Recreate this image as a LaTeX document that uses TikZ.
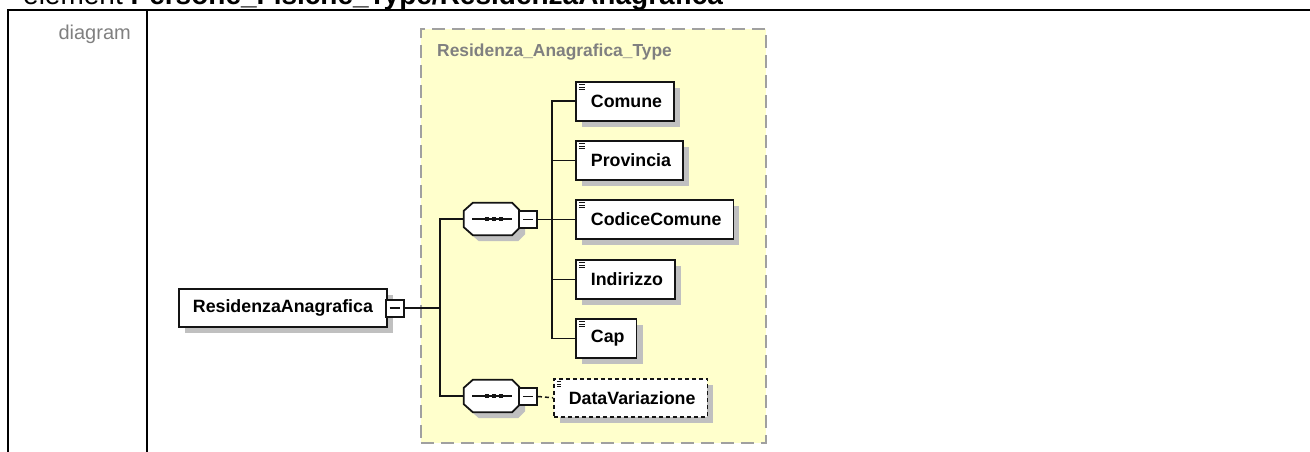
\documentclass[tikz,border=0pt]{standalone}
\usepackage{fontspec}
\setmainfont{Liberation Sans}
\usetikzlibrary{shadows}
\definecolor{shgray}{RGB}{192,192,192}
\definecolor{ybg}{RGB}{255,255,204}
\definecolor{ybord}{RGB}{160,160,160}
\definecolor{txtgray}{RGB}{128,128,128}
\definecolor{ink}{RGB}{20,20,20}
\tikzset{
  conn/.style={line width=1.8pt, draw=ink},
  dconn/.style={line width=1.5pt, draw=ink, dash pattern=on 4pt off 3pt},
  shad/.style={drop shadow={shadow xshift=6pt, shadow yshift=-6pt, fill=shgray, opacity=1}},
  elem/.style={draw=ink, line width=1.8pt, fill=white, shad, minimum height=39pt,
    inner xsep=12pt, inner ysep=0pt, anchor=north west,
    font=\bfseries\fontsize{17.8}{20}\selectfont,
    path picture={
      \foreach \k in {3,5.5,8}{
        \draw[line width=0.9pt, ink] ([xshift=3pt,yshift=-\k pt]path picture bounding box.north west) -- ++(6pt,0);
      }
    }},
  optelem/.style={elem, dash pattern=on 4pt off 3pt, line width=1.6pt},
  rootbox/.style={draw=ink, line width=1.8pt, fill=white, shad, minimum height=38pt,
    inner xsep=14pt, inner ysep=0pt, anchor=north west,
    font=\bfseries\fontsize{17.8}{20}\selectfont},
  minusbox/.style={draw=ink, line width=2pt, fill=white, minimum width=18pt, minimum height=17pt, inner sep=0pt,
    path picture={\draw[line width=1.4pt, ink] ([xshift=4pt]path picture bounding box.west) -- ([xshift=-4pt]path picture bounding box.east);}},
  seqanchor/.style={minimum width=55pt, minimum height=32pt, inner sep=0pt, draw=none},
  octp/.style={insert path={([yshift=-8pt]#1.north west) -- ([xshift=9pt]#1.north west) -- ([xshift=-7pt]#1.north east) -- ([yshift=-7pt]#1.north east) -- ([yshift=7pt]#1.south east) -- ([xshift=-7pt]#1.south east) -- ([xshift=9pt]#1.south west) -- ([yshift=8pt]#1.south west) -- cycle}},
  octa/.style={draw=ink, fill=white, line width=1.8pt},
  octshadow/.style={fill=shgray, draw=none},
  typebox/.style={draw=ybord, fill=ybg, line width=1.8pt, dash pattern=on 13pt off 7pt, anchor=north west, inner sep=0pt},
  tline/.style={line width=2.2pt, draw=black}
}
\newcommand\seqdots[1]{%
  \draw[line width=1.4pt, ink] ([xshift=-19.5pt]#1.center) -- ([xshift=20.5pt]#1.center);
  \foreach \d in {-7,0,7}{
    \fill[ink] ([xshift=\d pt, yshift=-2.2pt]#1.center) rectangle ([xshift=\d pt+4.4pt, yshift=2.2pt]#1.center);
  }%
}
\begin{document}
\begin{tikzpicture}[x=1pt,y=-1pt]
\useasboundingbox (0,0) rectangle (1310,452);
% header title (cut at top)
\node[anchor=base west, inner sep=0pt, font=\fontsize{28}{30}\selectfont] (title) at (23,5) {element \textbf{Persone\_Fisiche\_Type/ResidenzaAnagrafica}};
% table lines
\coordinate (tl) at (8,10);
\coordinate (tr) at (1320,10);
\coordinate (bl) at (8,460);
\coordinate (dt) at (147,10);
\coordinate (db) at (147,460);
\draw[tline] (tr) -- (tl) -- (bl);
\draw[tline] (dt) -- (db);
\node[anchor=base east, inner sep=0pt, text=txtgray, font=\fontsize{20}{22}\selectfont] (diag) at (131,40) {diagram};
% type box
\node[typebox, minimum width=345pt, minimum height=414pt] (tbox) at (420,28) {};
\node[anchor=base west, inner sep=0pt, text=txtgray, font=\bfseries\fontsize{17.4}{20}\selectfont] (tname) at (437,57) {Residenza\_Anagrafica\_Type};
% root
\node[rootbox] (root) at (178,288) {ResidenzaAnagrafica\hspace{7pt}};
\node[minusbox] (rm) at (394.5,308) {};
% sequences
\node[seqanchor] (seq1s) at (497.5,225) {};
\node[seqanchor] (seq1) at (491.5,219) {};
\path[octshadow, octp=seq1s];
\path[octa, octp=seq1];
\seqdots{seq1}
\node[minusbox] (m1) at (528,219.5) {};
\node[seqanchor] (seq2s) at (497.5,402) {};
\node[seqanchor] (seq2) at (491.5,396) {};
\path[octshadow, octp=seq2s];
\path[octa, octp=seq2];
\seqdots{seq2}
\node[minusbox] (m2) at (528,396.5) {};
% children
\node[elem] (c1) at (575,81) {\hspace{3pt}Comune};
\node[elem] (c2) at (575,140) {\hspace{3pt}Provincia};
\node[elem] (c3) at (575,199) {\hspace{3pt}CodiceComune};
\node[elem] (c4) at (575,259) {\hspace{3pt}Indirizzo};
\node[elem] (c5) at (575,318) {\hspace{3pt}Cap};
\node[optelem, minimum height=38pt] (dv) at (553,378) {\hspace{3pt}DataVariazione};
% connectors
\coordinate (jr) at (440,308);
\coordinate (js) at (552,219.5);
\draw[conn] (rm.east) -- (jr);
\draw[conn] (seq1.west) -| (jr);
\draw[conn] (seq2.west) -| (jr);
\draw[conn] (m1.east) -- (js);
\foreach \c in {c1,c2,c3,c4,c5}{
  \draw[conn] (\c.west) -| (js);
}
\draw[dconn] (m2.east) -- (dv.west);
\end{tikzpicture}
\end{document}
